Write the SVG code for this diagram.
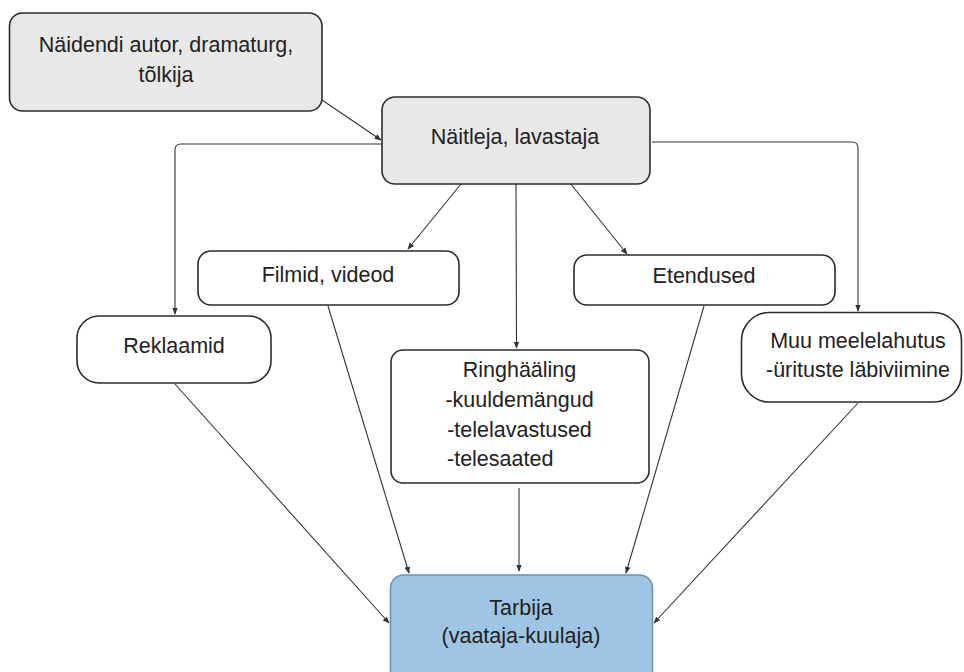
<svg xmlns="http://www.w3.org/2000/svg" width="964" height="672" viewBox="0 0 964 672">
<defs>
<marker id="ah" viewBox="0 0 10 10" refX="9" refY="5" markerWidth="7" markerHeight="7" markerUnits="userSpaceOnUse" orient="auto">
<path d="M0,1 L10,5 L0,9 z" fill="#333"/>
</marker>
</defs>
<style>
.box{stroke:#2b2b2b;stroke-width:1.6}
.grey{fill:#e8e8e8}
.white{fill:#ffffff}
.blue{fill:#9fc5e5;stroke:#6f93b0}
.t{font-family:"Liberation Sans",Arial,sans-serif;font-size:21.5px;fill:#222;text-anchor:middle}
.l{text-anchor:start}
.c{fill:none;stroke:#333;stroke-width:1.1;marker-end:url(#ah)}
</style>
<rect width="964" height="672" fill="#fff"/>
<g id="connectors">
<path class="c" d="M322,100 L381,140"/>
<path class="c" d="M382,144 L181,144 Q175,144 175,150 L175,314"/>
<path class="c" d="M652,142 L852,142 Q858,142 858,148 L858,311"/>
<path class="c" d="M461,184 L408,249"/>
<path class="c" d="M570,183 L627,254"/>
<path class="c" d="M516,184 L516.5,348"/>
<path class="c" d="M175,384 L389,623"/>
<path class="c" d="M328,306 L409,573"/>
<path class="c" d="M519,488 L519,571"/>
<path class="c" d="M704,306 L626,573"/>
<path class="c" d="M858,403 L654,623"/>
</g>
<g id="n1">
<rect class="box grey" x="9.5" y="13" width="312.5" height="98" rx="13"/>
<text class="t" x="166" y="52">Näidendi autor, dramaturg,</text>
<text class="t" x="166" y="82">tõlkija</text>
</g>
<g id="n2">
<rect class="box grey" x="382" y="97" width="268" height="87" rx="13"/>
<text class="t" x="515" y="144">Näitleja, lavastaja</text>
</g>
<g id="n3">
<rect class="box white" x="198" y="251" width="261" height="54" rx="13"/>
<text class="t" x="328" y="282">Filmid, videod</text>
</g>
<g id="n4">
<rect class="box white" x="77" y="316" width="194" height="67" rx="22"/>
<text class="t" x="174" y="353">Reklaamid</text>
</g>
<g id="n5">
<rect class="box white" x="574" y="255" width="261" height="50" rx="13"/>
<text class="t" x="704" y="283">Etendused</text>
</g>
<g id="n6">
<rect class="box white" x="741.5" y="312.5" width="220" height="89.5" rx="28"/>
<text class="t" x="858" y="348">Muu meelelahutus</text>
<text class="t" x="858" y="377">-ürituste läbiviimine</text>
</g>
<g id="n7">
<rect class="box white" x="391" y="350" width="258" height="133" rx="12"/>
<text class="t" x="519.5" y="377">Ringhääling</text>
<text class="t" x="519.5" y="407">-kuuldemängud</text>
<text class="t" x="519.5" y="437">-telelavastused</text>
<text class="t l" x="447" y="466">-telesaated</text>
</g>
<g id="n8">
<rect class="box blue" x="390.5" y="575" width="262" height="110" rx="13"/>
<text class="t" x="521" y="615">Tarbija</text>
<text class="t" x="521" y="643">(vaataja-kuulaja)</text>
</g>
</svg>
